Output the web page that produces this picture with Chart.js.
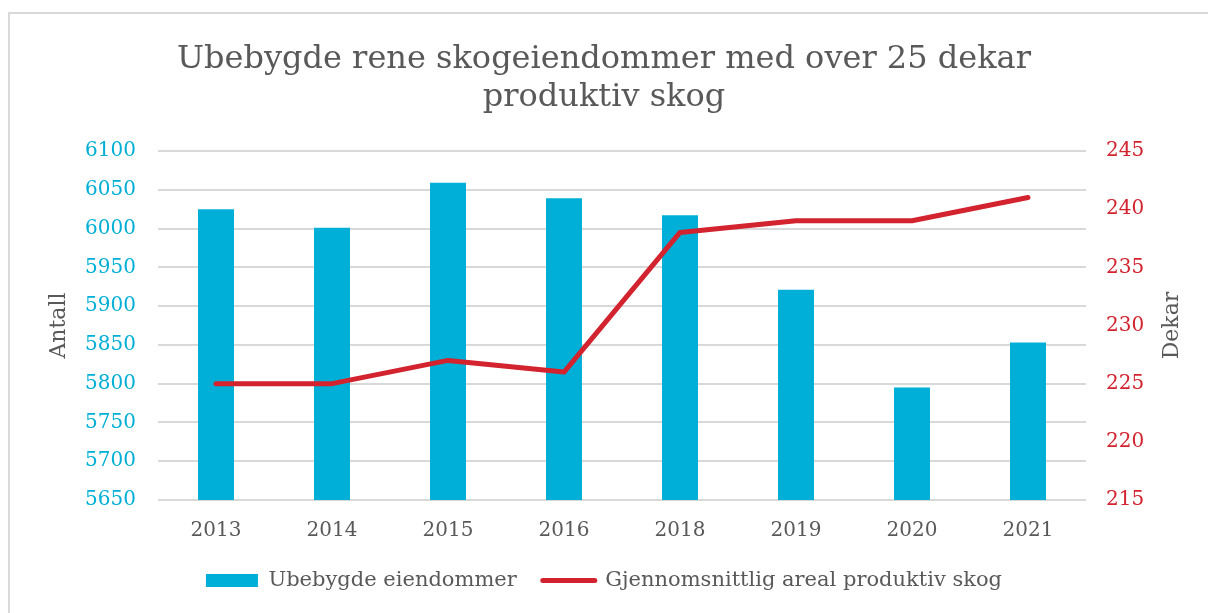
<!DOCTYPE html>
<html>
<head>
<meta charset="utf-8">
<script src="https://cdn.jsdelivr.net/npm/chart.js@4.4.0/dist/chart.umd.min.js"></script>
<style>
html, body { margin: 0; padding: 0; background: #fff; overflow: hidden; }
#frame { position: absolute; left: 8px; top: 12px; width: 1230px; height: 640px; border: 2px solid #d9d9d9; box-sizing: border-box; }
#wrap { position: absolute; left: 0; top: 0; width: 1208px; height: 613px; }
</style>
</head>
<body>
<div id="frame"></div>
<div id="wrap"><canvas id="chart"></canvas></div>
<script>
var years = ['2013', '2014', '2015', '2016', '2018', '2019', '2020', '2021'];
var antall = [6025, 6001, 6059, 6039, 6017, 5921, 5795, 5853];
var dekar = [225, 225, 227, 226, 238, 239, 239, 241];
var titleLines = ['Ubebygde rene skogeiendommer med over 25 dekar', 'produktiv skog'];

var serif = "'DejaVu Serif', 'Liberation Serif', serif";
var grey = '#595959';
var blue = '#00afd7';
var red = '#d2232f';

// right axis title reads bottom-to-top like the left one
var dekarTitle = {
    id: 'dekarTitle',
    afterDraw: function (chart) {
        var c = chart.ctx;
        var area = chart.chartArea;
        c.save();
        c.translate(1172, (area.top + area.bottom) / 2);
        c.rotate(-Math.PI / 2);
        c.fillStyle = grey;
        c.font = "22px " + serif;
        c.textAlign = 'center';
        c.textBaseline = 'middle';
        c.fillText('Dekar', 0, 0);
        c.restore();
    }
};

function plain(v) { return String(v); }

var config = {
    type: 'bar',
    data: {
        labels: years,
        datasets: [{
            label: 'Ubebygde eiendommer',
            data: antall,
            backgroundColor: blue,
            borderWidth: 0,
            barPercentage: 0.31,
            categoryPercentage: 1,
            yAxisID: 'y',
            order: 1
        }, {
            type: 'line',
            label: 'Gjennomsnittlig areal produktiv skog',
            data: dekar,
            borderColor: red,
            backgroundColor: red,
            borderWidth: 5,
            borderCapStyle: 'round',
            borderJoinStyle: 'round',
            pointRadius: 0,
            tension: 0,
            yAxisID: 'y1',
            order: 0
        }]
    },
    options: {
        responsive: true,
        maintainAspectRatio: false,
        animation: false,
        layout: { padding: { top: 0, left: 0, right: 0, bottom: 12 } },
        plugins: {
            tooltip: { enabled: false },
            title: {
                display: true,
                text: titleLines,
                color: grey,
                font: { family: serif, size: 32, weight: 'normal', lineHeight: '38px' },
                padding: { top: 41, bottom: 34 }
            },
            legend: {
                position: 'bottom',
                labels: {
                    usePointStyle: true,
                    pointStyleWidth: 52,
                    boxHeight: 13,
                    padding: 26,
                    color: grey,
                    font: { family: serif, size: 21 },
                    sort: function (a, b) { return a.datasetIndex - b.datasetIndex; },
                    generateLabels: function (chart) {
                        var items = Chart.defaults.plugins.legend.labels.generateLabels(chart);
                        items.forEach(function (it) {
                            if (it.datasetIndex === 0) {
                                it.pointStyle = 'rect';
                                it.lineWidth = 0;
                            } else {
                                it.pointStyle = 'line';
                                it.lineWidth = 5;
                                it.strokeStyle = red;
                                it.lineCap = 'round';
                            }
                        });
                        return items;
                    }
                }
            }
        },
        scales: {
            x: {
                grid: { display: false },
                border: { display: false },
                ticks: { color: grey, font: { family: serif, size: 20 }, padding: 11 },
                afterFit: function (s) { s.height = 44; }
            },
            y: {
                position: 'left',
                min: 5650,
                max: 6100,
                ticks: { stepSize: 50, color: blue, font: { family: serif, size: 20 }, padding: 22, callback: plain },
                grid: { color: '#d9d9d9', lineWidth: 2, drawTicks: false },
                border: { display: false },
                title: {
                    display: true,
                    text: 'Antall',
                    color: grey,
                    font: { family: serif, size: 22 },
                    padding: { top: 46, bottom: 0 }
                },
                afterFit: function (s) { s.width = 158; }
            },
            y1: {
                position: 'right',
                min: 215,
                max: 245,
                ticks: { stepSize: 5, color: red, font: { family: serif, size: 20 }, padding: 20, callback: plain },
                grid: { drawOnChartArea: false, drawTicks: false },
                border: { display: false },
                afterFit: function (s) { s.width = 122; }
            }
        }
    },
    plugins: [dekarTitle]
};

var ctx = document.getElementById('chart').getContext('2d');
var chart = new Chart(ctx, config);
</script>
</body>
</html>
